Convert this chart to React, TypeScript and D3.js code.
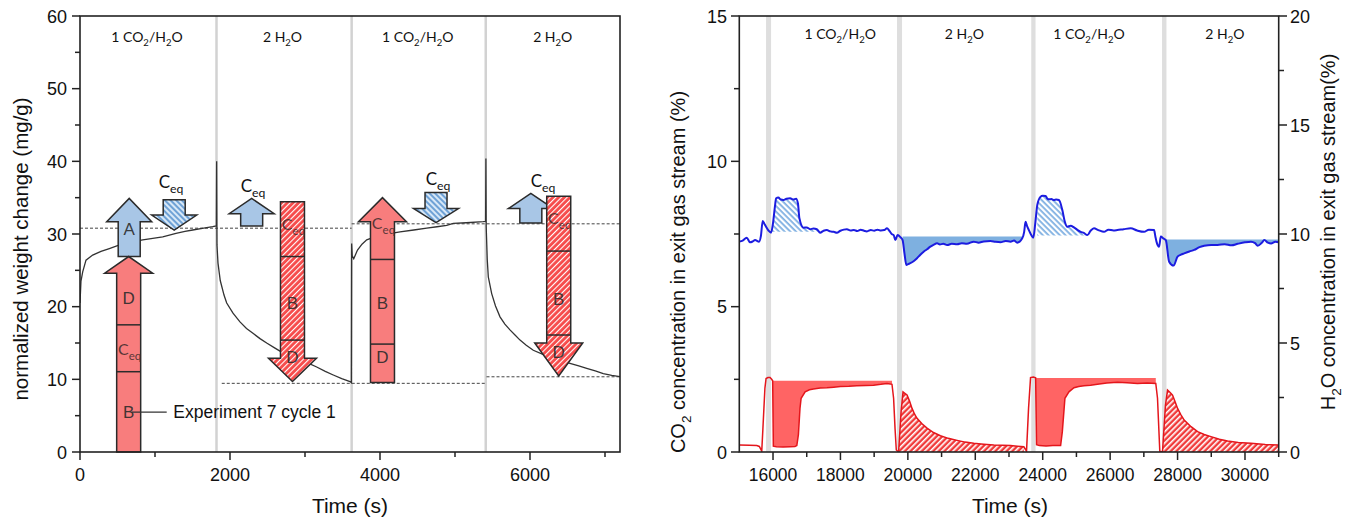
import React from "react";
import * as d3 from "d3";

const W = 1358;
const H = 522;

// ---------------- Left panel: gravimetric weight change ----------------
const weightCurve: [number, number][] = [
  [0, 20.5], [13, 23.5], [36, 24.8], [80, 26.4], [169, 27.1], [280, 27.6], [391, 28.0], [500, 28.4],
  [613, 28.7], [720, 28.95], [836, 29.2], [970, 29.4], [1103, 29.6], [1280, 30.1], [1400, 30.35],
  [1503, 30.55], [1650, 30.8], [1769, 31.0], [1818, 31.1], [1822, 40.0], [1826, 28.5], [1840, 26.0],
  [1870, 23.6], [1920, 21.6], [1956, 20.5], [2040, 19.1], [2133, 17.9], [2220, 17.0], [2311, 16.3],
  [2400, 15.6], [2489, 15.0], [2600, 14.3], [2711, 13.6], [2820, 13.1], [2933, 12.7], [3050, 12.2],
  [3156, 11.7], [3270, 11.1], [3377, 10.6], [3490, 10.1], [3600, 9.7], [3618, 9.55], [3622, 28.7],
  [3630, 27.0], [3650, 26.6], [3700, 27.8], [3760, 28.6], [3823, 29.2], [3930, 29.6], [4044, 29.9],
  [4150, 30.1], [4267, 30.3], [4450, 30.55], [4623, 30.8], [4760, 31.0], [4889, 31.2], [4977, 31.45],
  [5150, 31.55], [5377, 31.7], [5408, 31.75], [5412, 40.4], [5416, 31.0], [5430, 26.5], [5444, 24.1],
  [5489, 21.8], [5540, 20.1], [5600, 18.6], [5665, 17.6], [5733, 16.8], [5800, 16.1], [5867, 15.4],
  [5950, 14.7], [6044, 14.0], [6180, 13.4], [6311, 12.9], [6420, 12.55], [6533, 12.2], [6650, 11.85],
  [6756, 11.5], [6870, 11.15], [6977, 10.8], [7090, 10.55], [7200, 10.36],
];

const switchTimesLeft = [1820, 3622, 5410];

// equilibrium reference levels: [from, to, value]
const eqLevels: [number, number, number][] = [
  [0, 3622, 30.8],
  [3622, 7200, 31.4],
  [1890, 5400, 9.45],
  [5420, 7200, 10.35],
];

const phaseNames = ["1 CO2/H2O", "2 H2O", "1 CO2/H2O", "2 H2O"];
const phaseCentersLeft = [893, 2700, 4503, 6303];
const phaseCentersRight = [17993, 21678, 25372, 29405];

const xMajorLeft = [0, 2000, 4000, 6000];
const xMinorLeft = [1000, 3000, 5000, 7000];
const yMajorLeft = [0, 10, 20, 30, 40, 50, 60];
const yMinorLeft = [5, 15, 25, 35, 45, 55];

type Arrow = {
  t: number;
  tail: number;
  base: number;
  tip: number;
  kind: "blue" | "blueHatch" | "red" | "redHatch";
  dividers: number[];
  labels: [string, number][];
};

const arrows: Arrow[] = [
  { t: 656, tail: 26.9, base: 31.7, tip: 34.9, kind: "blue", dividers: [], labels: [["A", 30.7]] },
  { t: 649, tail: 0, base: 24.6, tip: 26.9, kind: "red", dividers: [17.5, 11.05], labels: [["D", 21.2], ["Ceq", 14.0], ["B", 5.5]] },
  { t: 1256, tail: 34.7, base: 32.6, tip: 30.55, kind: "blueHatch", dividers: [], labels: [] },
  { t: 2289, tail: 31.1, base: 32.8, tip: 34.9, kind: "blue", dividers: [], labels: [] },
  { t: 2833, tail: 34.45, base: 12.9, tip: 9.7, kind: "redHatch", dividers: [26.9, 15.4], labels: [["Ceq", 31.2], ["B", 20.5], ["D", 13.1]] },
  { t: 4033, tail: 9.55, base: 31.7, tip: 35.0, kind: "red", dividers: [26.5, 14.85], labels: [["Ceq", 31.4], ["B", 20.5], ["D", 13.1]] },
  { t: 4747, tail: 35.7, base: 33.5, tip: 31.55, kind: "blueHatch", dividers: [], labels: [] },
  { t: 6011, tail: 31.5, base: 33.5, tip: 35.6, kind: "blue", dividers: [], labels: [] },
  { t: 6383, tail: 35.2, base: 15.0, tip: 10.45, kind: "redHatch", dividers: [27.65, 16.1], labels: [["Ceq", 32.0], ["B", 21.1], ["D", 13.8]] },
];

// free-standing C_eq captions: [time, value of baseline]
const ceqCaptions: [number, number][] = [
  [1213, 36.3],
  [2307, 35.8],
  [4773, 36.7],
  [6173, 36.5],
];

const experimentNote = { text: "Experiment 7 cycle 1", from: 689, to: 1156, t: 1244, v: 5.5 };

// ---------------- Right panel: exit gas concentrations ----------------
const h2oSeries: [number, number][] = [
  [15000, 9.65], [15100, 9.7], [15220, 9.83], [15318, 9.62], [15400, 9.66], [15467, 9.72], [15585, 9.65],
  [15640, 9.9], [15695, 10.6], [15750, 10.45], [15794, 10.33], [15870, 10.15], [15942, 10.06], [16000, 10.5],
  [16060, 11.3], [16091, 11.64], [16159, 11.67], [16230, 11.58], [16308, 11.56], [16400, 11.62], [16507, 11.64],
  [16600, 11.58], [16685, 11.62], [16740, 11.4], [16783, 10.72], [16902, 10.29], [17000, 10.3], [17100, 10.22],
  [17200, 10.25], [17300, 10.22], [17398, 10.06], [17500, 10.15], [17597, 10.18], [17700, 10.12], [17800, 10.1],
  [17895, 10.06], [18000, 10.15], [18100, 10.2], [18192, 10.22], [18300, 10.16], [18400, 10.18], [18500, 10.14],
  [18600, 10.2], [18700, 10.15], [18786, 10.12], [18900, 10.18], [19000, 10.15], [19100, 10.2], [19200, 10.16],
  [19300, 10.18], [19381, 10.26], [19450, 10.15], [19529, 9.99], [19580, 9.95], [19627, 9.72], [19696, 9.95],
  [19780, 9.85], [19844, 9.72], [19900, 9.1], [19954, 8.58], [20010, 8.62], [20073, 8.66], [20170, 8.75],
  [20272, 8.89], [20370, 9.05], [20468, 9.19], [20570, 9.3], [20668, 9.42], [20760, 9.5], [20867, 9.57],
  [20950, 9.52], [21050, 9.55], [21164, 9.49], [21300, 9.55], [21461, 9.53], [21600, 9.58], [21750, 9.55],
  [21955, 9.65], [22100, 9.6], [22250, 9.66], [22451, 9.68], [22600, 9.64], [22748, 9.62], [22900, 9.68],
  [23045, 9.65], [23150, 9.7], [23244, 9.6], [23393, 9.8], [23450, 10.1], [23491, 10.56], [23540, 10.35],
  [23589, 10.18], [23660, 9.95], [23720, 9.83], [23780, 10.5], [23839, 11.33], [23937, 11.71], [24000, 11.75],
  [24086, 11.74], [24140, 11.62], [24184, 11.59], [24260, 11.6], [24333, 11.56], [24400, 11.58], [24481, 11.56],
  [24582, 11.1], [24650, 10.6], [24731, 10.33], [24830, 10.38], [24927, 10.3], [25020, 10.2], [25126, 10.1],
  [25220, 10.05], [25325, 9.95], [25421, 10.15], [25521, 10.26], [25650, 10.18], [25818, 10.1], [25950, 10.2],
  [26100, 10.16], [26216, 10.18], [26400, 10.22], [26611, 10.26], [26800, 10.16], [27006, 10.1], [27150, 10.2],
  [27303, 10.18], [27340, 9.9], [27375, 9.65], [27452, 9.42], [27503, 9.88], [27580, 9.8], [27651, 9.72],
  [27750, 8.73], [27881, 8.55], [28000, 8.96], [28100, 9.05], [28196, 9.11], [28350, 9.2], [28493, 9.27],
  [28650, 9.4], [28790, 9.46], [29000, 9.5], [29188, 9.5], [29400, 9.53], [29600, 9.48], [29783, 9.55],
  [30000, 9.62], [30178, 9.65], [30300, 9.58], [30377, 9.46], [30500, 9.6], [30574, 9.72], [30680, 9.6],
  [30773, 9.56], [30900, 9.64], [31000, 9.62],
];

const co2Series: [number, number][] = [
  [15000, 0.24], [15300, 0.23], [15517, 0.22], [15594, 0.19], [15666, 0.03], [15700, 0.8], [15760, 2.2],
  [15794, 2.53], [15850, 2.56], [15912, 2.56], [15960, 2.5], [15990, 2.45], [16010, 0.2], [16100, 0.18],
  [16300, 0.17], [16500, 0.18], [16650, 0.19], [16706, 0.22], [16753, 0.6], [16800, 1.5], [16834, 1.85],
  [16953, 2.07], [17080, 2.14], [17199, 2.17], [17400, 2.2], [17597, 2.21], [17800, 2.23], [17998, 2.25],
  [18250, 2.26], [18489, 2.28], [18750, 2.29], [18982, 2.3], [19200, 2.33], [19381, 2.36], [19529, 2.33],
  [19577, 1.85], [19620, 0.8], [19657, 0.07], [19725, 0.0], [19800, 1.4], [19856, 2.07], [19910, 2.02],
  [19975, 1.96], [20050, 1.75], [20124, 1.5], [20200, 1.3], [20272, 1.16], [20420, 0.97], [20569, 0.82],
  [20760, 0.67], [20965, 0.56], [21200, 0.47], [21461, 0.4], [21700, 0.34], [21955, 0.3], [22250, 0.27],
  [22549, 0.24], [22800, 0.23], [23045, 0.22], [23250, 0.2], [23440, 0.18], [23520, 0.03], [23580, 1.5],
  [23639, 2.56], [23720, 2.58], [23790, 2.55], [23818, 0.25], [23900, 0.22], [24100, 0.21], [24300, 0.22],
  [24531, 0.22], [24582, 0.7], [24659, 1.85], [24778, 2.07], [24927, 2.21], [25070, 2.25], [25224, 2.28],
  [25420, 2.3], [25622, 2.33], [25900, 2.37], [26216, 2.4], [26500, 2.38], [26810, 2.36], [27100, 2.37],
  [27354, 2.36], [27405, 1.85], [27473, 0.03], [27553, 0.0], [27640, 1.6], [27702, 2.13], [27780, 2.05],
  [27851, 1.96], [27930, 1.72], [28000, 1.5], [28100, 1.28], [28196, 1.1], [28400, 0.87], [28594, 0.7],
  [28790, 0.6], [28990, 0.53], [29240, 0.44], [29485, 0.38], [29800, 0.33], [30178, 0.3], [30600, 0.26],
  [31000, 0.24],
];

// gas switching windows [start, end]
const switchBands: [number, number][] = [
  [15793, 15942],
  [19678, 19827],
  [23660, 23787],
  [27540, 27670],
];

// integrated H2O areas: [from, to, reference level, hatched]
const h2oAreas: [number, number, number, boolean][] = [
  [15942, 17420, 10.1, true],
  [19844, 23400, 9.88, false],
  [23790, 25330, 9.93, true],
  [27651, 31000, 9.75, false],
];

// integrated CO2 areas: [from, to, reference level (null = zero baseline), hatched]
const co2Areas: [number, number, number | null, boolean][] = [
  [15990, 19540, 2.45, false],
  [19725, 23450, null, true],
  [23790, 27360, 2.55, false],
  [27553, 31000, null, true],
];

const xMajorRight = [16000, 18000, 20000, 22000, 24000, 26000, 28000, 30000];
const xMinorRight = [17000, 19000, 21000, 23000, 25000, 27000, 29000, 31000];
const yMajorCO2 = [0, 5, 10, 15];
const yMinorCO2 = [2.5, 7.5, 12.5];
const yMajorH2O = [0, 5, 10, 15, 20];
const yMinorH2O = [2.5, 7.5, 12.5, 17.5];

// ---------------- helpers ----------------
const ARIAL = "'Liberation Sans', Arial, sans-serif";
const CALIBRI = "Lato, 'Open Sans', sans-serif";

function Chem({ s, size }: { s: string; size: number }) {
  // digits directly after a letter become subscripts
  const parts: { txt: string; sub: boolean }[] = [];
  for (let i = 0; i < s.length; i++) {
    const c = s[i];
    const sub = /\d/.test(c) && i > 0 && /[A-Za-z]/.test(s[i - 1]);
    const last = parts[parts.length - 1];
    if (last && last.sub === sub) last.txt += c;
    else parts.push({ txt: c, sub });
  }
  const shift = size * 0.3;
  const out: React.ReactNode[] = [];
  let cur = 0;
  parts.forEach((p, i) => {
    const target = p.sub ? shift : 0;
    out.push(
      <tspan key={i} dy={target - cur} fontSize={p.sub ? size * 0.68 : size}>
        {p.txt}
      </tspan>
    );
    cur = target;
  });
  return <>{out}</>;
}

function Ceq({ size }: { size: number }) {
  return (
    <>
      <tspan fontSize={size}>C</tspan>
      <tspan dy={size * 0.3} fontSize={size * 0.72}>eq</tspan>
    </>
  );
}

export default function App() {
  // left panel scales
  const xL = d3.scaleLinear().domain([0, 7200]).range([80, 620]);
  const yL = d3.scaleLinear().domain([0, 60]).range([452, 16]);
  // right panel scales
  const xR = d3.scaleLinear().domain([15000, 31000]).range([739.3, 1278.7]);
  const yCO2 = d3.scaleLinear().domain([0, 15]).range([452, 16]);
  const yH2O = d3.scaleLinear().domain([0, 20]).range([452, 16]);

  const weightLine = d3
    .line<[number, number]>()
    .x((d) => xL(d[0]))
    .y((d) => yL(d[1]))(weightCurve) as string;

  const h2oLine = d3
    .line<[number, number]>()
    .x((d) => xR(d[0]))
    .y((d) => yH2O(d[1]))
    .curve(d3.curveMonotoneX)(h2oSeries) as string;
  const co2Line = d3
    .line<[number, number]>()
    .x((d) => xR(d[0]))
    .y((d) => yCO2(d[1]))(co2Series) as string;

  const slice = (series: [number, number][], a: number, b: number) =>
    series.filter((d) => d[0] >= a && d[0] <= b);

  const h2oAreaPaths = h2oAreas.map(([a, b, ref, hatched]) => {
    const pts = slice(h2oSeries, a, b);
    const gen = d3
      .area<[number, number]>()
      .x((d) => xR(d[0]))
      .y0(yH2O(ref))
      .y1((d) => yH2O(hatched ? Math.max(d[1], ref) : Math.min(d[1], ref)))
      .curve(d3.curveMonotoneX);
    return { d: gen(pts) as string, hatched };
  });

  const co2AreaPaths = co2Areas.map(([a, b, ref, hatched]) => {
    const pts = slice(co2Series, a, b);
    const gen = d3
      .area<[number, number]>()
      .x((d) => xR(d[0]))
      .y0((d) => (ref === null ? yCO2(0) : yCO2(Math.min(d[1], ref))))
      .y1((d) => (ref === null ? yCO2(d[1]) : yCO2(ref)));
    return { d: gen(pts) as string, hatched };
  });

  const arrowPath = (a: Arrow, hs: number, hh: number) => {
    const cx = xL(a.t);
    const yt = yL(a.tail);
    const yb = yL(a.base);
    const yp = yL(a.tip);
    return `M${cx - hs},${yt}L${cx - hs},${yb}L${cx - hh},${yb}L${cx},${yp}L${cx + hh},${yb}L${cx + hs},${yb}L${cx + hs},${yt}Z`;
  };

  const arrowFill = (k: Arrow["kind"]) =>
    k === "blue" ? "#a8c6e6" : k === "blueHatch" ? "url(#hatchBlueL)" : k === "red" ? "#f87d7d" : "url(#hatchRedL)";

  const tickFont = 18;

  return (
    <svg
      width={W}
      height={H}
      viewBox={`0 0 ${W} ${H}`}
      style={{ position: "absolute", left: 0, top: 0, background: "#fff" }}
    >
      <defs>
        <pattern id="hatchRedL" patternUnits="userSpaceOnUse" width="4" height="4" patternTransform="rotate(-45)">
          <rect width="4" height="4" fill="#f64a4a" />
          <rect width="4" height="1.1" fill="#ffffff" />
        </pattern>
        <pattern id="hatchBlueL" patternUnits="userSpaceOnUse" width="4" height="4" patternTransform="rotate(45)">
          <rect width="4" height="4" fill="#d8e8f7" />
          <rect width="4" height="2" fill="#6fa2d6" />
        </pattern>
        <pattern id="hatchRedR" patternUnits="userSpaceOnUse" width="4" height="4" patternTransform="rotate(-45)">
          <rect width="4" height="4" fill="#f03a3a" />
          <rect width="4" height="1.6" fill="#ffffff" />
        </pattern>
        <pattern id="hatchBlueR" patternUnits="userSpaceOnUse" width="4" height="4" patternTransform="rotate(45)">
          <rect width="4" height="4" fill="#ffffff" />
          <rect width="4" height="1.8" fill="#7fb0e2" />
        </pattern>
        <clipPath id="clipL">
          <rect x={80} y={16} width={540} height={436} />
        </clipPath>
        <clipPath id="clipR">
          <rect x={739.3} y={16} width={539.4} height={436} />
        </clipPath>
      </defs>

      {/* ================= LEFT PANEL ================= */}
      <g clipPath="url(#clipL)">
        {switchTimesLeft.map((t, i) => (
          <line key={i} x1={xL(t)} x2={xL(t)} y1={16} y2={452} stroke="#d2d2d2" strokeWidth={2.5} />
        ))}
        {eqLevels.map(([a, b, v], i) => (
          <line
            key={i}
            x1={xL(a)}
            x2={xL(b)}
            y1={yL(v)}
            y2={yL(v)}
            stroke="#444"
            strokeWidth={1}
            strokeDasharray="3,2"
          />
        ))}
        <path d={weightLine} fill="none" stroke="#333" strokeWidth={1.3} />
      </g>

      {phaseNames.map((p, i) => (
        <text
          key={i}
          x={xL(phaseCentersLeft[i])}
          y={42}
          textAnchor="middle"
          fontFamily={CALIBRI}
          fontSize={14}
          fill="#111"
        >
          <Chem s={p} size={14} />
        </text>
      ))}

      {/* arrows */}
      {arrows.map((a, i) => {
        const isRed = a.kind === "red" || a.kind === "redHatch";
        const hs = isRed ? 12 : 11;
        const hh = isRed ? 24 : 22.5;
        const cx = xL(a.t);
        return (
          <g key={i}>
            <path d={arrowPath(a, hs, hh)} fill={arrowFill(a.kind)} stroke="#2b2b2b" strokeWidth={1.5} strokeLinejoin="miter" />
            {a.dividers.map((v, j) => (
              <line key={j} x1={cx - hs} x2={cx + hs} y1={yL(v)} y2={yL(v)} stroke="#2b2b2b" strokeWidth={1.5} />
            ))}
            {a.labels.map(([txt, v], j) =>
              txt === "Ceq" ? (
                <text
                  key={j}
                  x={cx + 1}
                  y={yL(v) + 5}
                  textAnchor="middle"
                  fontFamily={CALIBRI}
                  fill="#3a2a2a"
                  fillOpacity={0.85}
                >
                  <Ceq size={16} />
                </text>
              ) : (
                <text
                  key={j}
                  x={cx}
                  y={yL(v) + 6}
                  textAnchor="middle"
                  fontFamily={ARIAL}
                  fontSize={17}
                  fill="#2a2a2a"
                  fillOpacity={0.9}
                >
                  {txt}
                </text>
              )
            )}
          </g>
        );
      })}

      {ceqCaptions.map(([t, v], i) => (
        <text key={i} x={xL(t)} y={yL(v)} textAnchor="middle" fontFamily={CALIBRI} fill="#111">
          <Ceq size={17} />
        </text>
      ))}

      <line
        x1={xL(experimentNote.from)}
        x2={xL(experimentNote.to)}
        y1={yL(experimentNote.v)}
        y2={yL(experimentNote.v)}
        stroke="#333"
        strokeWidth={1.3}
      />
      <text
        x={xL(experimentNote.t)}
        y={yL(experimentNote.v) + 6}
        fontFamily={ARIAL}
        fontSize={17.5}
        fill="#111"
      >
        {experimentNote.text}
      </text>

      {/* left frame and axes */}
      <rect x={80} y={16} width={540} height={436} fill="none" stroke="#222" strokeWidth={1.6} />
      {xMajorLeft.map((t) => (
        <g key={t}>
          <line x1={xL(t)} x2={xL(t)} y1={452} y2={460} stroke="#222" strokeWidth={1.5} />
          <text x={xL(t)} y={481} textAnchor="middle" fontFamily={ARIAL} fontSize={tickFont} fill="#111">
            {t}
          </text>
        </g>
      ))}
      {xMinorLeft.map((t) => (
        <line key={t} x1={xL(t)} x2={xL(t)} y1={452} y2={457} stroke="#222" strokeWidth={1.5} />
      ))}
      {yMajorLeft.map((v) => (
        <g key={v}>
          <line x1={72} x2={80} y1={yL(v)} y2={yL(v)} stroke="#222" strokeWidth={1.5} />
          <text x={67} y={yL(v) + 6.5} textAnchor="end" fontFamily={ARIAL} fontSize={tickFont} fill="#111">
            {v}
          </text>
        </g>
      ))}
      {yMinorLeft.map((v) => (
        <line key={v} x1={75} x2={80} y1={yL(v)} y2={yL(v)} stroke="#222" strokeWidth={1.5} />
      ))}
      <text x={350} y={513} textAnchor="middle" fontFamily={ARIAL} fontSize={21} fill="#111">
        Time (s)
      </text>
      <text
        transform={`translate(28,249) rotate(-90)`}
        textAnchor="middle"
        fontFamily={ARIAL}
        fontSize={20.5}
        fill="#111"
      >
        normalized weight change (mg/g)
      </text>

      {/* ================= RIGHT PANEL ================= */}
      <g clipPath="url(#clipR)">
        {switchBands.map(([a, b], i) => (
          <rect key={i} x={xR(a)} width={xR(b) - xR(a)} y={16} height={436} fill="#dedede" />
        ))}
        {co2AreaPaths.map((p, i) => (
          <path key={i} d={p.d} fill={p.hatched ? "url(#hatchRedR)" : "#ff5c5c"} fillOpacity={p.hatched ? 1 : 0.95} />
        ))}
        {h2oAreaPaths.map((p, i) => (
          <path key={i} d={p.d} fill={p.hatched ? "url(#hatchBlueR)" : "#7eb0e0"} />
        ))}
        <path d={co2Line} fill="none" stroke="#e4161c" strokeWidth={1.5} />
        <path d={h2oLine} fill="none" stroke="#1c1ce0" strokeWidth={2} />
      </g>

      {phaseNames.map((p, i) => (
        <text
          key={i}
          x={xR(phaseCentersRight[i])}
          y={39}
          textAnchor="middle"
          fontFamily={CALIBRI}
          fontSize={14}
          fill="#111"
        >
          <Chem s={p} size={14} />
        </text>
      ))}

      <rect x={739.3} y={16} width={539.4} height={436} fill="none" stroke="#222" strokeWidth={1.6} />
      {xMajorRight.map((t) => (
        <g key={t}>
          <line x1={xR(t)} x2={xR(t)} y1={452} y2={460} stroke="#222" strokeWidth={1.5} />
          <text x={xR(t)} y={481} textAnchor="middle" fontFamily={ARIAL} fontSize={17.5} fill="#111">
            {t}
          </text>
        </g>
      ))}
      {xMinorRight.map((t) => (
        <line key={t} x1={xR(t)} x2={xR(t)} y1={452} y2={457} stroke="#222" strokeWidth={1.5} />
      ))}
      {yMajorCO2.map((v) => (
        <g key={v}>
          <line x1={731} x2={739.3} y1={yCO2(v)} y2={yCO2(v)} stroke="#222" strokeWidth={1.5} />
          <text x={727} y={yCO2(v) + 6.5} textAnchor="end" fontFamily={ARIAL} fontSize={tickFont} fill="#111">
            {v}
          </text>
        </g>
      ))}
      {yMinorCO2.map((v) => (
        <line key={v} x1={734} x2={739.3} y1={yCO2(v)} y2={yCO2(v)} stroke="#222" strokeWidth={1.5} />
      ))}
      {yMajorH2O.map((v) => (
        <g key={v}>
          <line x1={1278.7} x2={1287} y1={yH2O(v)} y2={yH2O(v)} stroke="#222" strokeWidth={1.5} />
          <text x={1290} y={yH2O(v) + 6.5} textAnchor="start" fontFamily={ARIAL} fontSize={tickFont} fill="#111">
            {v}
          </text>
        </g>
      ))}
      {yMinorH2O.map((v) => (
        <line key={v} x1={1278.7} x2={1284} y1={yH2O(v)} y2={yH2O(v)} stroke="#222" strokeWidth={1.5} />
      ))}
      <text x={1010} y={513} textAnchor="middle" fontFamily={ARIAL} fontSize={21} fill="#111">
        Time (s)
      </text>
      <text
        transform={`translate(685,272) rotate(-90)`}
        textAnchor="middle"
        fontFamily={ARIAL}
        fill="#111"
      >
        <Chem s="CO2 concentration in exit gas stream (%)" size={20} />
      </text>
      <text
        transform={`translate(1335,232) rotate(-90)`}
        textAnchor="middle"
        fontFamily={ARIAL}
        fill="#111"
      >
        <Chem s="H2O concentration in exit gas stream(%)" size={20} />
      </text>
    </svg>
  );
}
